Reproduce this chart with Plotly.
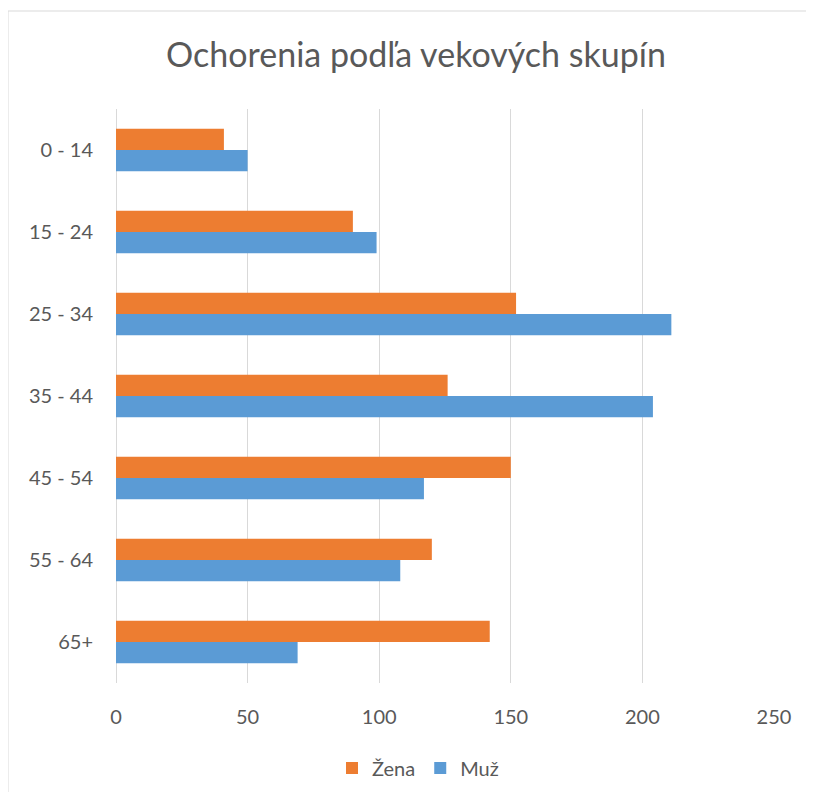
import plotly.graph_objects as go

categories = ["0 - 14", "15 - 24", "25 - 34", "35 - 44", "45 - 54", "55 - 64", "65+"]
zena = [41, 90, 152, 126, 150, 120, 142]
muz = [50, 99, 211, 204, 117, 108, 69]
x_ticks = [0, 50, 100, 150, 200, 250]

# page body has an 8px margin; figure coords = screen coords - 8
W, H = 798, 784
ml, mr, mt, mb = 108, 32, 101, 109
pw, ph = W - ml - mr, H - mt - mb

fig = go.Figure()
fig.add_trace(go.Bar(y=categories, x=zena, name="Žena", orientation="h",
                     marker=dict(color="#ED7D31", line=dict(width=0))))
fig.add_trace(go.Bar(y=categories, x=muz, name="Muž", orientation="h",
                     marker=dict(color="#5B9BD5", line=dict(width=0))))

font_family = "Lato, 'Open Sans', sans-serif"
fig.update_layout(
    width=W, height=H,
    margin=dict(l=ml, r=mr, t=mt, b=mb, autoexpand=False),
    paper_bgcolor="white", plot_bgcolor="white",
    barmode="group", bargap=0.48, bargroupgap=0,
    font=dict(family=font_family, color="#595959", size=20),
    title=dict(text="Ochorenia podľa vekových skupín", x=408 / W, xref="container",
               xanchor="center", y=1 - 47 / H, yref="container", yanchor="middle",
               font=dict(size=34, color="#595959", family=font_family)),
    legend=dict(orientation="h", x=(410 - ml) / pw, xanchor="center",
                y=1 - 760 / H, yref="container", yanchor="middle",
                font=dict(size=20, color="#595959"), traceorder="normal",
                itemwidth=30, tracegroupgap=0),
    showlegend=True,
)
fig.update_xaxes(range=[0, 250], tickvals=x_ticks, showgrid=True,
                 gridcolor="#D9D9D9", gridwidth=1, zeroline=True,
                 zerolinecolor="#D9D9D9", zerolinewidth=1, showline=False,
                 ticks="", ticklabelstandoff=20, tickfont=dict(size=20),
                 automargin=False)
fig.update_yaxes(autorange="reversed", showgrid=False, showline=False,
                 ticks="", ticklabelstandoff=22, tickfont=dict(size=20),
                 automargin=False)

fig.add_shape(type="rect", xref="paper", yref="paper",
              x0=(0 - ml) / pw, x1=(W + 40 - ml) / pw,
              y0=-(H + 40 - mt - ph) / ph, y1=1 + (mt - 3) / ph,
              line=dict(color="#D9D9D9", width=1), fillcolor="rgba(0,0,0,0)",
              layer="below")

fig.write_html("out.html")
